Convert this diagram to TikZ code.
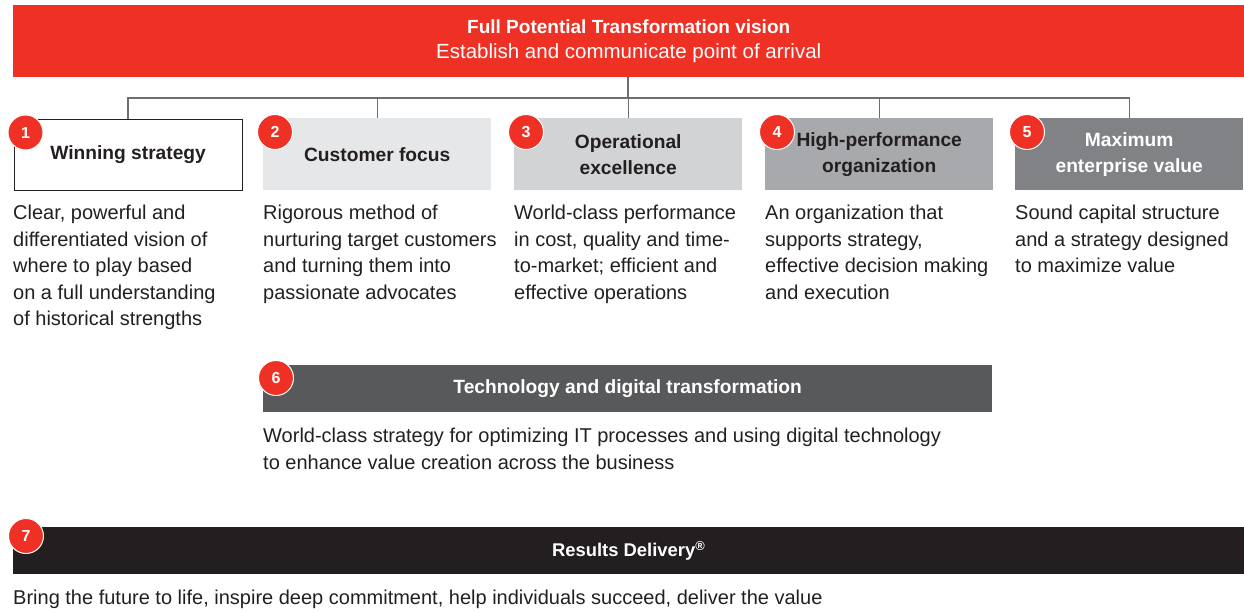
\documentclass[tikz,border=0pt]{standalone}
\usepackage{fontspec}
\setmainfont{Liberation Sans}
\definecolor{bred}{HTML}{EE3124}
\definecolor{g1}{HTML}{E6E7E8}
\definecolor{g2}{HTML}{D1D3D4}
\definecolor{g3}{HTML}{A7A9AC}
\definecolor{g4}{HTML}{808285}
\definecolor{g5}{HTML}{58595B}
\definecolor{g6}{HTML}{231F20}
\definecolor{lin}{HTML}{6D6E71}
\tikzset{
  hbox/.style={minimum width=228pt, minimum height=72pt, inner sep=0pt, anchor=north west, align=center,
    font=\fontsize{19.2}{26}\selectfont\bfseries, text=g6},
  wbox/.style={minimum height=47pt, inner sep=0pt, anchor=north west, align=center,
    font=\fontsize{19.2}{26}\selectfont\bfseries, text=white},
  badge/.style={circle, fill=bred, draw=white, line width=1pt, minimum size=35pt, inner sep=0pt,
    text=white, font=\fontsize{16}{18}\selectfont\bfseries},
  desc/.style={anchor=north west, inner sep=0pt, align=left, text=g6,
    font=\fontsize{20}{26.5}\selectfont},
  conn/.style={draw=lin, line width=1.3pt},
}
\begin{document}
\begin{tikzpicture}[x=1pt,y=-1pt]
\useasboundingbox (0,0) rectangle (1244,611);
% top bar
\node[fill=bred, minimum width=1231pt, minimum height=72pt, inner sep=0pt, anchor=north west, align=center,
  text=white, font=\fontsize{20.5}{25}\selectfont] (top) at (13,5)
  {\fontsize{19}{25}\selectfont\textbf{Full Potential Transformation vision}\\Establish and communicate point of arrival};
% boxes
\node[hbox, draw=g6, line width=1.2pt, minimum width=228pt, minimum height=71pt] (b1) at (13.5,118.5) {Winning strategy};
\node[hbox, fill=g1] (b2) at (263,118) {Customer focus};
\node[hbox, fill=g2] (b3) at (514,118) {Operational\\excellence};
\node[hbox, fill=g3] (b4) at (765,118) {High-performance\\organization};
\node[hbox, fill=g4, text=white] (b5) at (1015,118) {Maximum\\enterprise value};
% connectors
\coordinate (j) at (628,98);
\draw[conn] (top.south -| j) -- (j);
\draw[conn] (b1.north) |- (j) -| (b5.north);
\draw[conn] (b2.north) -- (b2.north |- j);
\draw[conn] (b3.north) -- (b3.north |- j);
\draw[conn] (b4.north) -- (b4.north |- j);
% badges
\foreach \i in {1,...,5}{
  \node[badge] (c\i) at ([shift={(12,14)}]b\i.north west) {\i};
}
% descriptions
\node[desc] (d1) at (13,205) {Clear, powerful and\\differentiated vision of\\where to play based\\on a full understanding\\of historical strengths};
\node[desc] (d2) at (263,205) {Rigorous method of\\nurturing target customers\\and turning them into\\passionate advocates};
\node[desc] (d3) at (514,205) {World-class performance\\in cost, quality and time-\\to-market; efficient and\\effective operations};
\node[desc] (d4) at (765,205) {An organization that\\supports strategy,\\effective decision making\\and execution};
\node[desc] (d5) at (1015,205) {Sound capital structure\\and a strategy designed\\to maximize value};
% box 6
\node[wbox, fill=g5, minimum width=729pt] (b6) at (263,365) {Technology and digital transformation};
\node[badge] (c6) at ([shift={(13,13)}]b6.north west) {6};
\node[desc] (d6) at (263,428) {World-class strategy for optimizing IT processes and using digital technology\\to enhance value creation across the business};
% box 7
\node[wbox, fill=g6, minimum width=1231pt, font=\fontsize{18.4}{20}\selectfont\bfseries] (b7) at (13,527) {Results Delivery\textsuperscript{®}};
\node[badge] (c7) at ([shift={(13,9)}]b7.north west) {7};
\node[desc] (d7) at (13,590) {Bring the future to life, inspire deep commitment, help individuals succeed, deliver the value};
\end{tikzpicture}
\end{document}
